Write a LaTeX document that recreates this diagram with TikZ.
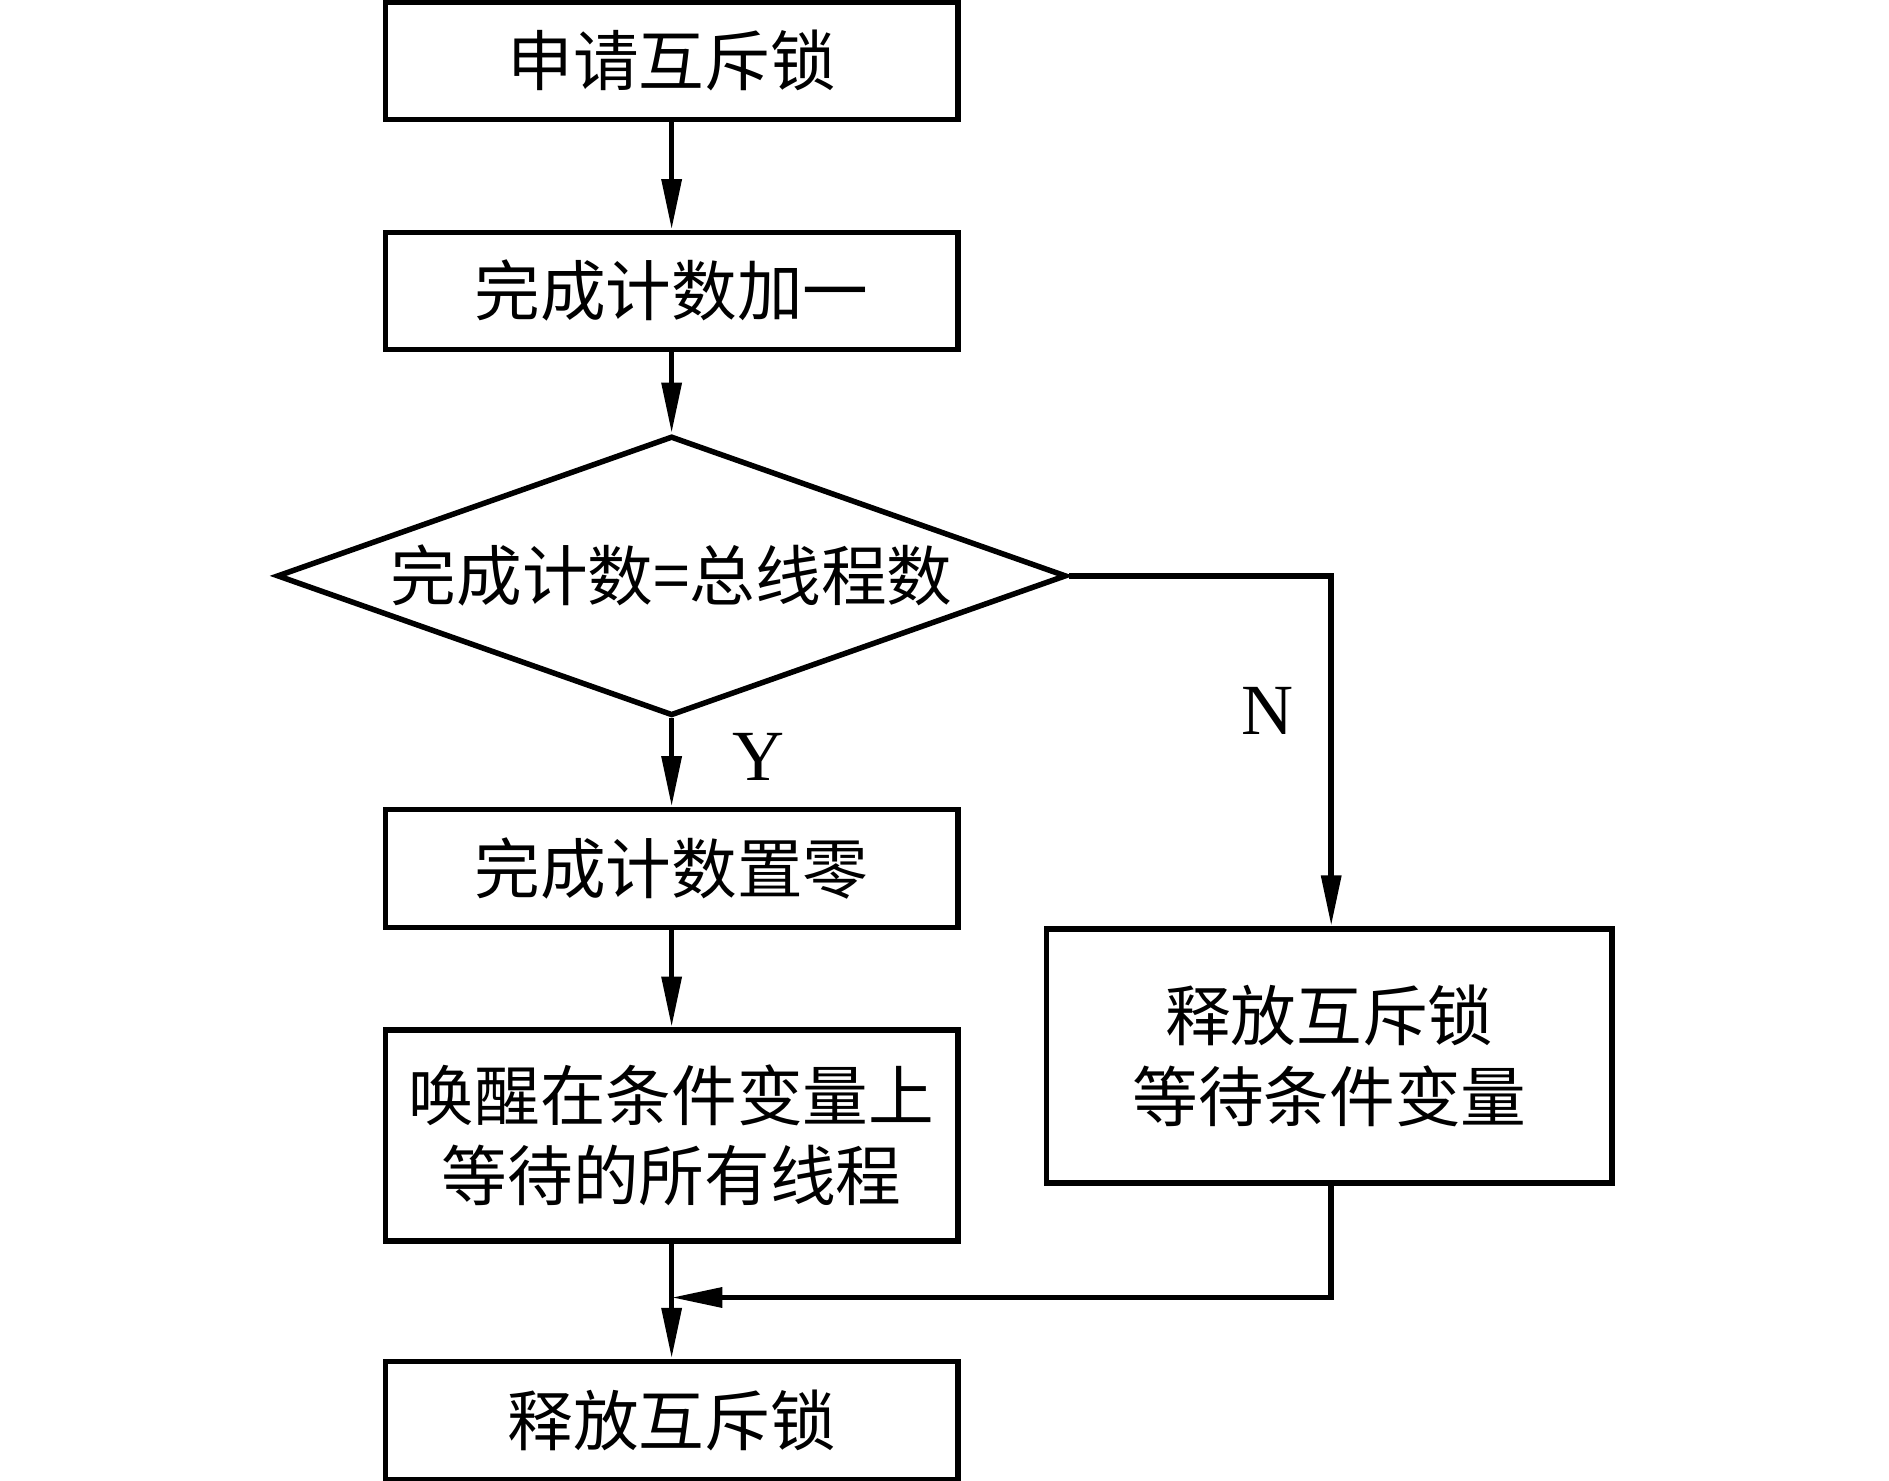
\documentclass[tikz,border=0pt]{standalone}
\usepackage{fontspec}
\setmainfont{Liberation Serif}
\newfontfamily\cjk{Noto Sans CJK SC}
\usetikzlibrary{shapes.geometric,arrows.meta}
\begin{document}
\begin{tikzpicture}[x=0.01cm,y=-0.01cm,
  every node/.style={font=\cjk\fontsize{15.5}{19}\selectfont},
  procbox/.style={draw,line width=1.3pt,inner sep=0pt,align=center},
  decbox/.style={draw,line width=1.3pt,diamond,aspect=2.82,inner sep=0pt,minimum width=6.55cm,minimum height=2.32cm},
  flow/.style={line width=1.3pt,-{Triangle[length=0.42cm,width=0.16cm]}},
  lbl/.style={font=\fontsize{17}{20}\selectfont}]
\useasboundingbox (0,0) rectangle (1568,1229);
\node[procbox,minimum width=4.75cm,minimum height=0.97cm] (b1) at (557.5,50.5) {申请互斥锁};
\node[procbox,minimum width=4.75cm,minimum height=0.97cm] (b2) at (557.5,241.5) {完成计数加一};
\node[decbox] (d) at (557.5,478) {完成计数=总线程数};
\node[procbox,minimum width=4.75cm,minimum height=0.98cm] (b3) at (557.5,721) {完成计数置零};
\node[procbox,minimum width=4.75cm,minimum height=1.75cm] (b4) at (557.5,942.5) {唤醒在条件变量上\\等待的所有线程};
\node[procbox,minimum width=4.69cm,minimum height=2.11cm] (b5) at (1103.5,876.5) {释放互斥锁\\等待条件变量};
\node[procbox,minimum width=4.75cm,minimum height=0.98cm] (b6) at (557.5,1179) {释放互斥锁};
\coordinate (c1) at (1105,478);
\coordinate (c2) at (1105,1077);
\coordinate (c3) at (557.5,1077);
\draw[flow] (b1) -- (b2);
\draw[flow] (b2) -- (d);
\draw[flow] (d.south) -- (b3);
\draw[flow] (b3) -- (b4);
\draw[flow] (b4) -- (b6);
\draw[flow] (d.east) -- (c1) -- (b5.north -| c1);
\draw[flow] (b5.south -| c2) -- (c2) -- (c3);
\node[lbl] (y) at (630,628) {Y};
\node[lbl] (n) at (1052,590) {N};
\end{tikzpicture}
\end{document}
